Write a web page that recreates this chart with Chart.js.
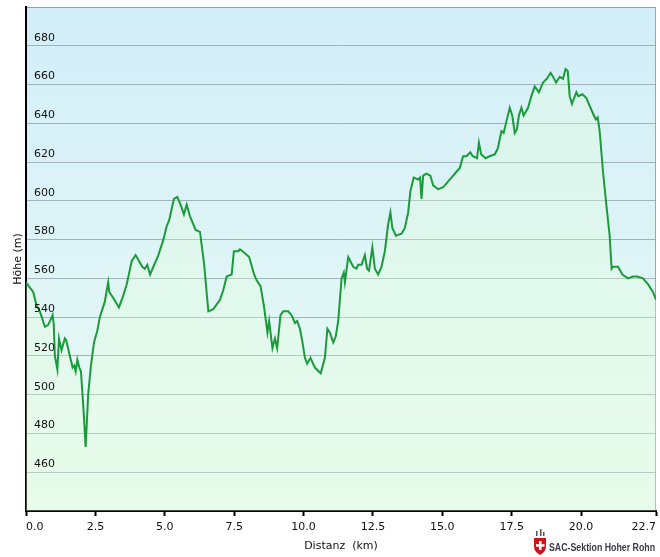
<!DOCTYPE html>
<html lang="de">
<head>
  <meta charset="UTF-8" />
  <title>Höhenprofil</title>
  <script src="https://cdn.jsdelivr.net/npm/chart.js"></script>
  <style>
    html, body { margin: 0; padding: 0; background: #ffffff; }
    #wrap { width: 660px; height: 557px; }
  </style>
</head>
<body>
  <div id="wrap">
    <canvas id="profil" width="660" height="557"></canvas>
  </div>

  <script>
    // Distanz in km, Höhe in m
    const distKm = [
      0.00, 0.10, 0.26, 0.38, 0.50, 0.68, 0.80, 0.96, 1.00, 1.04, 1.13, 1.19, 1.28, 1.40, 1.45,
      1.58, 1.68, 1.74, 1.79, 1.85, 1.92, 1.98, 2.06, 2.15, 2.24, 2.34, 2.45, 2.57, 2.66, 2.84,
      2.96, 3.00, 3.14, 3.35, 3.50, 3.63, 3.81, 3.95, 4.07, 4.19, 4.28, 4.37, 4.47, 4.59, 4.77,
      4.95, 5.07, 5.16, 5.33, 5.45, 5.57, 5.69, 5.79, 5.91, 6.11, 6.27, 6.42, 6.57, 6.74, 6.99,
      7.11, 7.23, 7.41, 7.49, 7.65, 7.71, 7.89, 8.04, 8.22, 8.31, 8.45, 8.57, 8.70, 8.76, 8.88,
      8.97, 9.05, 9.17, 9.27, 9.45, 9.57, 9.69, 9.77, 9.87, 9.95, 10.05, 10.13, 10.25, 10.41, 10.55,
      10.62, 10.77, 10.86, 10.95, 11.07, 11.16, 11.25, 11.37, 11.45, 11.49, 11.61, 11.79, 11.91, 11.97, 12.09,
      12.21, 12.29, 12.36, 12.48, 12.57, 12.69, 12.81, 12.93, 13.05, 13.13, 13.20, 13.33, 13.53, 13.65, 13.77,
      13.85, 13.97, 14.13, 14.20, 14.25, 14.31, 14.43, 14.57, 14.67, 14.85, 15.03, 15.21, 15.33, 15.51, 15.63,
      15.75, 15.87, 16.01, 16.10, 16.25, 16.32, 16.40, 16.56, 16.70, 16.89, 17.00, 17.13, 17.21, 17.31, 17.43,
      17.52, 17.61, 17.69, 17.76, 17.85, 17.93, 18.09, 18.21, 18.33, 18.48, 18.63, 18.77, 18.90, 18.99, 19.10,
      19.23, 19.35, 19.44, 19.52, 19.59, 19.67, 19.83, 19.90, 20.05, 20.19, 20.37, 20.53, 20.60, 20.67, 20.79,
      20.91, 21.03, 21.10, 21.15, 21.33, 21.49, 21.69, 21.87, 22.01, 22.23, 22.41, 22.59, 22.70
    ];
    const hoeheM = [
      558, 556, 553, 546, 543, 535, 536, 541, 536, 520, 513, 529, 523, 529, 528,
      520, 514, 515, 512, 518, 514, 512, 495, 473, 500, 515, 527, 533, 540, 548,
      558, 553, 550, 545, 551, 557, 569, 572, 569, 566, 565, 567, 562, 566, 572,
      580, 587, 590, 601, 602, 598, 593, 598, 592, 585, 584, 567, 543, 544, 549,
      554, 561, 562, 574, 574, 575, 573, 571, 562, 559, 556, 546, 532, 538, 524,
      529, 524, 541, 543, 543, 541, 537, 538, 534, 528, 519, 516, 519, 514, 512,
      511, 519, 534, 532, 527, 530, 538, 560, 563, 558, 571, 566, 565, 567, 567,
      572, 565, 564, 576, 565, 562, 566, 574, 588, 594, 586, 582, 583, 586, 594,
      605, 612, 611, 612, 601, 613, 614, 613, 608, 606, 607, 610, 612, 615, 617,
      623, 623, 625, 623, 622, 630, 624, 622, 623, 624, 627, 636, 635, 641, 648,
      644, 635, 637, 644, 648, 644, 648, 654, 659, 656, 661, 663, 666, 664, 661,
      664, 663, 668, 667, 654, 650, 656, 654, 655, 653, 647, 642, 643, 636, 615,
      598, 582, 565, 566, 566, 562, 560, 561, 561, 560, 557, 553, 549
    ];
    const xTicks = [0, 2.5, 5, 7.5, 10, 12.5, 15, 17.5, 20, 22.7];
    const yTicks = [460, 480, 500, 520, 540, 560, 580, 600, 620, 640, 660, 680];

    const schrift = '"DejaVu Sans", Verdana, sans-serif';

    // Hintergrund-Verlauf + Rand rechts/oben, Logo unten rechts
    const hintergrund = {
      id: 'hintergrund',
      beforeDraw(chart) {
        const { ctx, chartArea: a } = chart;
        const g = ctx.createLinearGradient(0, a.top, 0, a.bottom);
        g.addColorStop(0, '#d2eef9');
        g.addColorStop(1, '#eafbf3');
        ctx.save();
        ctx.fillStyle = g;
        ctx.fillRect(a.left, a.top, a.right - a.left, a.bottom - a.top);
        ctx.strokeStyle = '#9aa8ad';
        ctx.lineWidth = 1;
        ctx.beginPath();
        ctx.moveTo(a.left, a.top + 0.5);
        ctx.lineTo(a.right - 0.5, a.top + 0.5);
        ctx.lineTo(a.right - 0.5, a.bottom);
        ctx.stroke();
        ctx.restore();
      },
      afterDraw(chart) {
        const { ctx } = chart;
        ctx.save();
        // kleines Wappen
        const sx = 534, sy = 538;
        ctx.fillStyle = '#d0121b';
        ctx.beginPath();
        ctx.moveTo(sx, sy);
        ctx.lineTo(sx + 12, sy);
        ctx.lineTo(sx + 12, sy + 8);
        ctx.quadraticCurveTo(sx + 12, sy + 14, sx + 6, sy + 17);
        ctx.quadraticCurveTo(sx, sy + 14, sx, sy + 8);
        ctx.closePath();
        ctx.fill();
        ctx.fillStyle = '#ffffff';
        ctx.fillRect(sx + 5, sy + 3, 2.5, 9);
        ctx.fillRect(sx + 2, sy + 6.2, 8.5, 2.5);
        ctx.fillStyle = '#555';
        ctx.fillRect(sx + 2, sy - 7, 1.5, 5);
        ctx.fillRect(sx + 6, sy - 9, 1.5, 7);
        ctx.fillRect(sx + 9, sy - 6, 1.5, 4);
        // Schriftzug
        ctx.fillStyle = '#3a3a4a';
        ctx.font = 'bold 10px "Liberation Sans", Arial, sans-serif';
        ctx.textBaseline = 'middle';
        ctx.fillText('SAC-Sektion Hoher Rohn', 549, 548, 106);
        ctx.restore();
      }
    };

    const ctx = document.getElementById('profil').getContext('2d');
    const punkte = distKm.map((d, i) => ({ x: d, y: hoeheM[i] }));

    const ohnePadding = (s) => {
      s.paddingTop = 0; s.paddingBottom = 0; s.paddingLeft = 0; s.paddingRight = 0;
    };

    new Chart(ctx, {
      type: 'line',
      data: {
        datasets: [{
          label: 'Höhe',
          data: punkte,
          borderColor: '#1b9a3c',
          borderWidth: 2,
          pointRadius: 0,
          tension: 0,
          fill: 'start',
          backgroundColor: 'rgba(230, 255, 215, 0.3)'
        }]
      },
      options: {
        responsive: false,
        animation: false,
        layout: { padding: { top: 7, right: 4, left: 0, bottom: 0 } },
        plugins: {
          legend: { display: false },
          tooltip: { enabled: false }
        },
        scales: {
          x: {
            type: 'linear',
            min: 0,
            max: 22.7,
            afterBuildTicks: (s) => { s.ticks = xTicks.map(v => ({ value: v })); },
            afterFit: (s) => { s.height = 46; ohnePadding(s); },
            ticks: {
              color: '#111',
              font: { family: schrift, size: 11 },
              padding: 5,
              align: 'inner',
              maxRotation: 0,
              autoSkip: false,
              callback: (v) => Number(v).toFixed(1)
            },
            grid: {
              drawOnChartArea: false,
              tickLength: 5,
              tickColor: '#000',
              tickWidth: 2
            },
            border: { color: '#000', width: 2 },
            title: {
              display: true,
              text: 'Distanz  (km)',
              color: '#111',
              font: { family: schrift, size: 11 },
              padding: { top: 0, bottom: 4 }
            }
          },
          y: {
            min: 440,
            max: 700,
            afterBuildTicks: (s) => {
              s.ticks = [440].concat(yTicks, [700]).map(v => ({ value: v }));
            },
            afterFit: (s) => { s.width = 26; ohnePadding(s); },
            ticks: {
              z: 1,
              mirror: true,
              padding: 8,
              labelOffset: -8,
              color: '#111',
              font: { family: schrift, size: 11 },
              callback: (v) => (yTicks.includes(v) ? String(v) : '')
            },
            grid: {
              color: 'rgba(140, 158, 164, 0.75)',
              lineWidth: 1,
              drawTicks: false
            },
            border: { color: '#000', width: 2 },
            title: {
              display: true,
              text: 'Höhe (m)',
              color: '#111',
              font: { family: schrift, size: 11 },
              padding: { top: 12, bottom: 0 }
            }
          }
        }
      },
      plugins: [hintergrund]
    });
  </script>
</body>
</html>
